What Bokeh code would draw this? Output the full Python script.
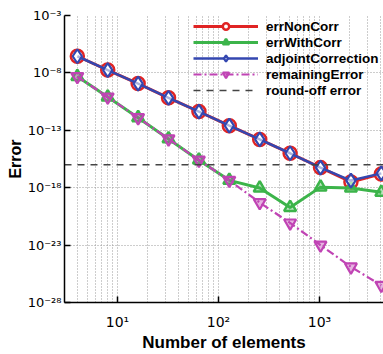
import numpy as np
from bokeh.plotting import figure
from bokeh.models import (Legend, LegendItem, FixedTicker, CustomJSTickFormatter, Range1d)
from bokeh.embed import file_html
from bokeh.resources import INLINE

# ---- data ----
n_elements = [4, 8, 16, 32, 64, 128, 256, 512, 1024, 2048, 4096]
log_err_non_corr = [-6.55, -7.75, -8.93, -10.17, -11.37, -12.6, -13.8, -15.0, -16.25, -17.5, -16.8]
log_err_with_corr = [-8.32, -10.1, -11.9, -13.75, -15.6, -17.36, -18.03, -19.72, -17.95, -18.03, -18.4]
log_adjoint_corr = [-6.55, -7.75, -8.93, -10.17, -11.37, -12.6, -13.8, -15.0, -16.25, -17.38, -16.75]
log_remaining = [-8.32, -10.1, -11.9, -13.75, -15.6, -17.36, -19.3, -21.07, -23.0, -24.9, -26.5]
roundoff_error = 1e-16

x_major_ticks = [10, 100, 1000]
x_minor_ticks = [3, 4, 5, 6, 7, 8, 9, 20, 30, 40, 50, 60, 70, 80, 90,
                 200, 300, 400, 500, 600, 700, 800, 900, 2000, 3000, 4000]
y_major_ticks = [1e-3, 1e-8, 1e-13, 1e-18, 1e-23, 1e-28]

x_lo, x_hi = 10 ** 0.475, 10 ** 3.634
y_lo, y_hi = 1e-28, 1e-3

p = figure(width=383, height=354, x_axis_type="log", y_axis_type="log",
           x_range=Range1d(x_lo, x_hi), y_range=Range1d(y_lo, y_hi),
           output_backend="svg", toolbar_location=None,
           min_border_left=64, min_border_right=0, min_border_top=15, min_border_bottom=42)
p.outline_line_color = None
p.background_fill_color = "white"
p.border_fill_color = "white"

fmt = CustomJSTickFormatter(code="""
const sup = {'-':'\u207b','0':'\u2070','1':'\u00b9','2':'\u00b2','3':'\u00b3','4':'\u2074','5':'\u2075','6':'\u2076','7':'\u2077','8':'\u2078','9':'\u2079'};
const e = Math.round(Math.log10(tick));
return '10' + String(e).split('').map(c => sup[c]).join('');
""")

p.xaxis.ticker = FixedTicker(ticks=x_major_ticks, minor_ticks=x_minor_ticks)
p.yaxis.ticker = FixedTicker(ticks=y_major_ticks, minor_ticks=[])
for ax in (p.xaxis[0], p.yaxis[0]):
    ax.formatter = fmt
    ax.major_tick_in = 6
    ax.major_tick_out = 0
    ax.minor_tick_line_color = None
    ax.axis_line_color = "black"
    ax.axis_line_width = 1.5
    ax.major_tick_line_width = 1.5
    ax.major_label_text_font = "DejaVu Sans"
    ax.major_label_text_color = "black"
    ax.axis_label_text_font = "Liberation Sans"
    ax.axis_label_text_font_style = "bold"
    ax.axis_label_text_color = "black"

p.xaxis.axis_label = "Number of elements"
p.xaxis.axis_label_text_font_size = "17px"
p.xaxis.major_label_text_font_size = "14px"
p.xaxis.major_label_standoff = 7
p.xaxis.axis_label_standoff = 0
p.yaxis.axis_label = "Error"
p.yaxis.axis_label_text_font_size = "16px"
p.yaxis.major_label_text_font_size = "13px"
p.yaxis.major_label_standoff = 3
p.yaxis.axis_label_standoff = 1

for g in (p.xgrid[0], p.ygrid[0]):
    g.grid_line_color = "#9a9a9a"
    g.grid_line_dash = "1 2"
    g.grid_line_width = 1
p.xgrid.minor_grid_line_color = "#9a9a9a"
p.xgrid.minor_grid_line_dash = "1 2"

xs = np.array(n_elements, dtype=float)
red, green, blue, mag = "#e02424", "#3cb44a", "#3447b0", "#c044b4"

r_line = p.line(xs, 10 ** np.array(log_err_non_corr), line_color=red, line_width=3)
r_mk = p.scatter(xs, 10 ** np.array(log_err_non_corr), marker="circle", size=13,
                 line_color=red, line_width=2.5, fill_color="white")
g_line = p.line(xs, 10 ** np.array(log_err_with_corr), line_color=green, line_width=3)
g_mk = p.scatter(xs, 10 ** np.array(log_err_with_corr), marker="triangle", size=12,
                 line_color=green, line_width=2.5, fill_color=green, fill_alpha=0.35)
b_line = p.line(xs, 10 ** np.array(log_adjoint_corr), line_color=blue, line_width=2.5)
b_mk = p.scatter(xs, 10 ** np.array(log_adjoint_corr), marker="diamond", size=14,
                 line_color=blue, line_width=2.2, fill_color="white", fill_alpha=0.6)
m_line = p.line(xs, 10 ** np.array(log_remaining), line_color=mag, line_width=2.2,
                line_dash="8 3 2 3")
m_mk = p.scatter(xs, 10 ** np.array(log_remaining), marker="inverted_triangle", size=12,
                 line_color=mag, line_width=2.2, fill_color=mag, fill_alpha=0.4)
ro_line = p.line([x_lo, x_hi], [roundoff_error, roundoff_error], line_color="#444444",
                 line_width=1.3, line_dash="7 6")

legend = Legend(items=[
    LegendItem(label="errNonCorr", renderers=[r_line, r_mk]),
    LegendItem(label="errWithCorr", renderers=[g_line, g_mk]),
    LegendItem(label="adjointCorrection", renderers=[b_line, b_mk]),
    LegendItem(label="remainingError", renderers=[m_line, m_mk]),
    LegendItem(label="round-off error", renderers=[ro_line]),
], location=(129, 204))
legend.background_fill_alpha = 0
legend.border_line_color = None
legend.padding = 0
legend.margin = 0
legend.spacing = 0
legend.glyph_width = 65
legend.glyph_height = 16
legend.label_height = 16
legend.label_standoff = 8
legend.label_text_font = "Liberation Sans"
legend.label_text_font_style = "bold"
legend.label_text_font_size = "13.5px"
legend.label_text_color = "black"
legend.label_text_baseline = "middle"
p.add_layout(legend, "center")

open("out.html", "w").write(file_html(p, INLINE))
